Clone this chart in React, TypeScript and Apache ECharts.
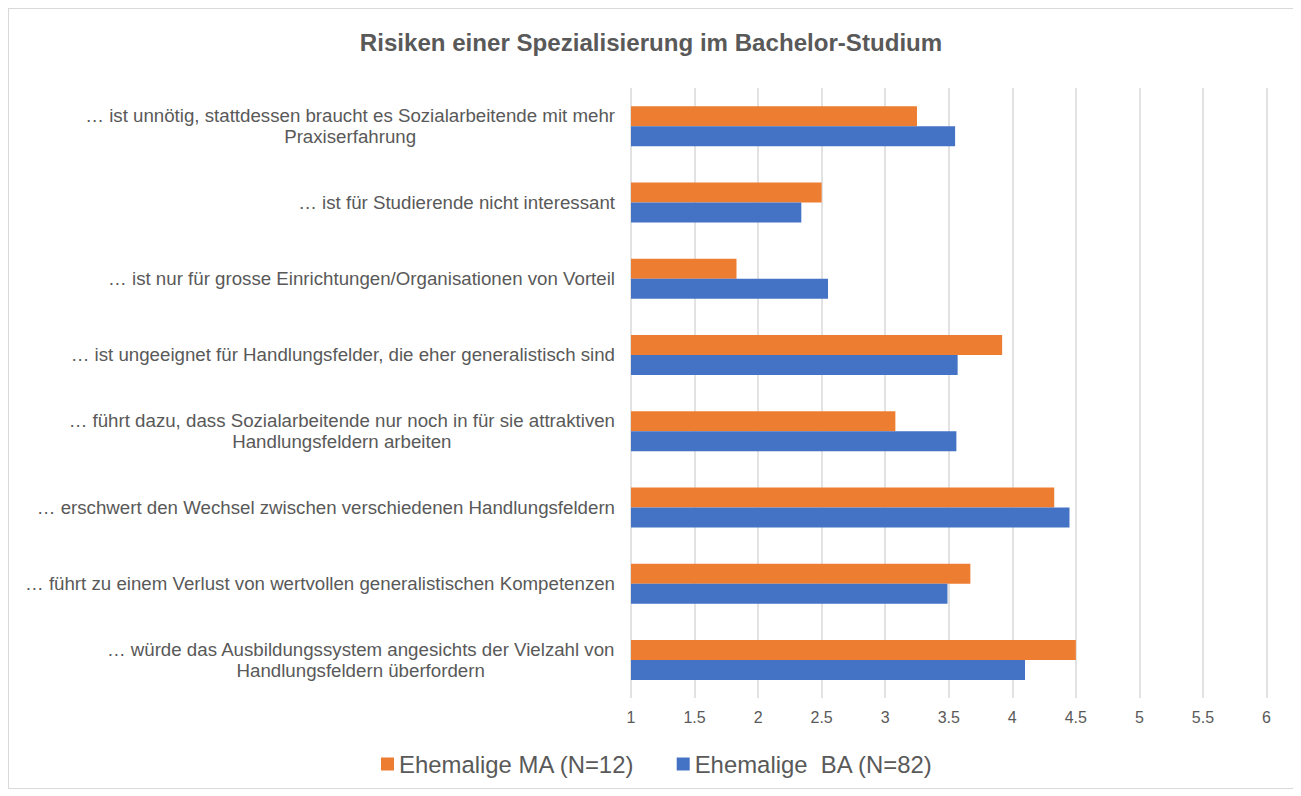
import React, { useEffect, useRef } from "react";
import * as echarts from "echarts";

const categories: string[] = [
  "… ist unnötig, stattdessen braucht es Sozialarbeitende mit mehr\nPraxiserfahrung",
  "… ist für Studierende nicht interessant",
  "… ist nur für grosse Einrichtungen/Organisationen von Vorteil",
  "… ist ungeeignet für Handlungsfelder, die eher generalistisch sind",
  "… führt dazu, dass Sozialarbeitende nur noch in für sie attraktiven\nHandlungsfeldern arbeiten",
  "… erschwert den Wechsel zwischen verschiedenen Handlungsfeldern",
  "… führt zu einem Verlust von wertvollen generalistischen Kompetenzen",
  "… würde das Ausbildungssystem angesichts der Vielzahl von\nHandlungsfeldern überfordern",
];

const seriesMA: number[] = [3.25, 2.5, 1.83, 3.92, 3.08, 4.33, 3.67, 4.5];
const seriesBA: number[] = [3.55, 2.34, 2.55, 3.57, 3.56, 4.45, 3.49, 4.1];

const nameMA = "Ehemalige MA (N=12)";
const nameBA = "Ehemalige  BA (N=82)";
const titleText = "Risiken einer Spezialisierung im Bachelor-Studium";

const FONT = "'Liberation Sans', Arial, sans-serif";
const TEXT = "#595959";

export default function App() {
  const ref = useRef<HTMLDivElement>(null);

  useEffect(() => {
    if (!ref.current) return;
    const chart = echarts.init(ref.current, null, { renderer: "svg" });
    chart.setOption({
      animation: false,
      textStyle: { fontFamily: FONT },
      title: {
        text: titleText,
        left: "center",
        top: 21,
        padding: 0,
        textStyle: { fontSize: 24.1, fontWeight: "bold", color: TEXT, fontFamily: FONT },
      },
      legend: {
        left: 372,
        top: 743,
        padding: 0,
        itemWidth: 13,
        itemHeight: 13,
        itemGap: 42,
        icon: "rect",
        textStyle: { fontSize: 23.9, color: TEXT, fontFamily: FONT },
        data: [nameMA, nameBA],
      },
      grid: { left: 622, top: 79, width: 635.5, height: 610 },
      xAxis: {
        type: "value",
        min: 1,
        max: 6,
        interval: 0.5,
        axisLine: { show: false },
        axisTick: { show: false },
        splitLine: { show: true, lineStyle: { color: "#d9d9d9", width: 1.5 } },
        axisLabel: { fontSize: 16, color: TEXT, margin: 11, fontFamily: FONT },
      },
      yAxis: {
        type: "category",
        inverse: true,
        data: categories,
        axisLine: { show: false },
        axisTick: { show: false },
        axisLabel: {
          margin: 16,
          fontSize: 18.7,
          color: TEXT,
          fontFamily: FONT,
          lineHeight: 21,
          formatter: (v: string) =>
            v
              .split("\n")
              .map((l) => `{c|${l}}`)
              .join("\n"),
          rich: {
            c: { fontSize: 18.7, lineHeight: 21, color: TEXT, align: "center", fontFamily: FONT },
          },
        },
      },
      series: [
        {
          name: nameMA,
          type: "bar",
          data: seriesMA,
          barWidth: 20,
          barGap: "0%",
          itemStyle: { color: "#ED7D31" },
        },
        {
          name: nameBA,
          type: "bar",
          data: seriesBA,
          barWidth: 20,
          barGap: "0%",
          itemStyle: { color: "#4472C4" },
        },
      ],
    });
    return () => chart.dispose();
  }, []);

  return (
    <div
      style={{
        width: 1286,
        height: 781,
        border: "1px solid #d9d9d9",
        boxSizing: "border-box",
        position: "relative",
      }}
    >
      <div ref={ref} style={{ width: "100%", height: "100%" }} />
    </div>
  );
}
